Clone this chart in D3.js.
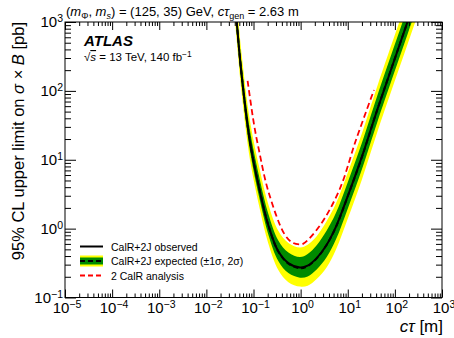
<!DOCTYPE html>
<html>
<head>
<meta charset="utf-8">
<script src="https://cdn.jsdelivr.net/npm/d3@7"></script>
<style>
body{margin:0;background:#fff;}
svg{font-family:"Liberation Sans",Arial,sans-serif;}
</style>
</head>
<body>
<svg id="chart"></svg>
<script>
// limit on sigma x B vs c tau

var w=454,h=338;
var L=65,R=442,T=22,B=297.5;

// data
var ctau=[0.036,0.044,0.056,0.0843,0.1375,0.206,0.336,0.55,0.97,1.41,2.19,3.55,5.6,10,20,43,185,316];
var expd=[5000,1000,170,18.3,3.44,1.13,0.464,0.31,0.266,0.285,0.37,0.58,1.05,2.95,11,55,1000,2900];
var obs =[5000,1000,168,18.0,3.40,1.12,0.468,0.316,0.272,0.29,0.373,0.58,1.06,2.97,11.1,55,1000,2900];
var p2  =[10000,2000,340,36.6,6.9,2.26,0.93,0.62,0.532,0.585,0.777,1.276,2.31,6.5,24.2,121,2200,6380];
var p1  =[7250,1450,246,26.5,5.0,1.64,0.673,0.45,0.386,0.428,0.574,0.928,1.68,4.72,17.6,88,1600,4640];
var m1  =[3650,730,124,13.4,2.51,0.825,0.339,0.226,0.194,0.202,0.255,0.383,0.693,1.95,7.26,36.3,660,1910];
var m2  =[2700,540,92,9.9,1.86,0.61,0.251,0.167,0.144,0.148,0.185,0.273,0.494,1.39,5.17,25.9,470,1360];

var calrX=[0.075,0.103,0.13,0.206,0.46,0.69,0.95,1.12,2.5,6.7,15,36];
var calrY=[140,32,14,3.5,0.82,0.62,0.59,0.60,1.08,3.7,19.5,103];

var xDecades=[-5,-4,-3,-2,-1,0,1,2,3];
var yDecades=[-1,0,1,2,3];
var legendLabels=["CalR+2J observed","CalR+2J expected (\u00b11\u03c3, 2\u03c3)","2 CalR analysis"];

// scales

var x=d3.scaleLog().domain([1e-5,1e3]).range([L,R]);
var y=d3.scaleLog().domain([1e-1,1e3]).range([B,T]);

var svg=d3.select("#chart").attr("width",w).attr("height",h);

svg.append("clipPath").attr("id","clip").append("rect")
	.attr("x",L).attr("y",T).attr("width",R-L).attr("height",B-T);

var plot=svg.append("g").attr("clip-path","url(#clip)");
var smooth=d3.curveCatmullRom.alpha(0.5);

function band(lo,hi) {
	return d3.area().curve(smooth)
		.x(function(d,i) {return x(ctau[i]);})
		.y0(function(d,i) {return y(lo[i]);})
		.y1(function(d,i) {return y(hi[i]);})(ctau);
}
function curve(xs,ys) {
	return d3.line().curve(smooth)
		.x(function(d,i) {return x(xs[i]);})
		.y(function(d,i) {return y(ys[i]);})(xs);
}

plot.append("path").attr("d",band(m2,p2)).style("fill","#ffff00");
plot.append("path").attr("d",band(m1,p1)).style("fill","#008a00");
plot.append("path").attr("d",curve(calrX,calrY))
	.style("fill","none").style("stroke","#ff0000").style("stroke-width",1.8).style("stroke-dasharray","6 3.5");
plot.append("path").attr("d",curve(ctau,obs))
	.style("fill","none").style("stroke","#000").style("stroke-width",2);
plot.append("path").attr("d",curve(ctau,expd))
	.style("fill","none").style("stroke","#000").style("stroke-width",2).style("stroke-dasharray","5 3");

// axes, ticks inside on all four sides

function minors(lo,hi) {
	var v=[];
	d3.range(lo,hi).forEach(function(e) {d3.range(2,10).forEach(function(k) {v.push(k*Math.pow(10,e));});});
	return v;
}
var xMaj=xDecades.map(function(e) {return Math.pow(10,e);});
var yMaj=yDecades.map(function(e) {return Math.pow(10,e);});
var xMin=minors(-5,3),yMin=minors(-1,3);

function drawAxis(gen,scale,vals,len,tr) {
	svg.append("g").attr("transform",tr)
		.call(gen(scale).tickValues(vals).tickSize(len).tickFormat(""))
		.call(function(g) {g.select(".domain").remove();g.selectAll("line").style("stroke","#000");});
}
drawAxis(d3.axisBottom,x,xMaj,-8,"translate(0,"+B+")");
drawAxis(d3.axisBottom,x,xMin,-4,"translate(0,"+B+")");
drawAxis(d3.axisTop,x,xMaj,-8,"translate(0,"+T+")");
drawAxis(d3.axisTop,x,xMin,-4,"translate(0,"+T+")");
drawAxis(d3.axisLeft,y,yMaj,-11,"translate("+L+",0)");
drawAxis(d3.axisLeft,y,yMin,-6,"translate("+L+",0)");
drawAxis(d3.axisRight,y,yMaj,-11,"translate("+R+",0)");
drawAxis(d3.axisRight,y,yMin,-6,"translate("+R+",0)");

svg.append("rect").attr("x",L).attr("y",T).attr("width",R-L).attr("height",B-T)
	.style("fill","none").style("stroke","#000").style("stroke-width",1);

function powLabel(sel,e) {
	sel.append("tspan").text("10");
	sel.append("tspan").attr("dy","-0.45em").style("font-size","10.5px").text(e<0?"\u2212"+(-e):e);
}
xDecades.forEach(function(e) {
	var t=svg.append("text").attr("x",x(Math.pow(10,e))+2).attr("y",312.5)
		.attr("text-anchor","middle").style("font-size","15px");
	powLabel(t,e);
});
yDecades.forEach(function(e) {
	var t=svg.append("text").attr("x",63).attr("y",y(Math.pow(10,e))+5)
		.attr("text-anchor","end").style("font-size","15px");
	powLabel(t,e);
});

// axis titles
var xt=svg.append("text").attr("x",R+1).attr("y",332).attr("text-anchor","end").style("font-size","17px");
xt.append("tspan").style("font-style","italic").text("c\u03c4");
xt.append("tspan").text(" [m]");

var yt=svg.append("text").attr("transform","translate(24,"+T+") rotate(-90)")
	.attr("text-anchor","end").style("font-size","16.5px");
yt.append("tspan").text("95% CL upper limit on ");
yt.append("tspan").style("font-style","italic").text("\u03c3");
yt.append("tspan").text(" \u00d7 ");
yt.append("tspan").style("font-style","italic").text("B");
yt.append("tspan").text(" [pb]");

// title
var tt=svg.append("text").attr("x",L+1).attr("y",16).style("font-size","13px");
tt.append("tspan").text("(");
tt.append("tspan").style("font-style","italic").text("m");
tt.append("tspan").attr("dy",3).style("font-size","9px").text("\u03a6");
tt.append("tspan").attr("dy",-3).text(", ");
tt.append("tspan").style("font-style","italic").text("m");
tt.append("tspan").attr("dy",3).style("font-size","9px").style("font-style","italic").text("s");
tt.append("tspan").attr("dy",-3).text(") = (125, 35) GeV, ");
tt.append("tspan").style("font-style","italic").text("c\u03c4");
tt.append("tspan").attr("dy",3).style("font-size","9px").text("gen");
tt.append("tspan").attr("dy",-3).text(" = 2.63 m");

// ATLAS label
svg.append("text").attr("x",84).attr("y",46).style("font-size","15px")
	.style("font-weight","bold").style("font-style","italic").text("ATLAS");
var st=svg.append("text").attr("x",84).attr("y",61).style("font-size","11.5px");
st.append("tspan").text("\u221a");
st.append("tspan").style("font-style","italic").style("text-decoration","overline").text("s");
st.append("tspan").text(" = 13 TeV, 140 fb");
st.append("tspan").attr("dy",-4).style("font-size","8.5px").text("\u22121");

// legend
var ly=[246.5,261,275.5];
svg.append("line").attr("x1",80).attr("x2",103).attr("y1",ly[0]).attr("y2",ly[0])
	.style("stroke","#000").style("stroke-width",2);
svg.append("rect").attr("x",80).attr("y",ly[1]-5.5).attr("width",23).attr("height",11).style("fill","#ffff00");
svg.append("rect").attr("x",80).attr("y",ly[1]-3.5).attr("width",23).attr("height",7).style("fill","#008a00");
svg.append("line").attr("x1",80).attr("x2",103).attr("y1",ly[1]).attr("y2",ly[1])
	.style("stroke","#000").style("stroke-width",2).style("stroke-dasharray","5 3");
svg.append("line").attr("x1",80).attr("x2",103).attr("y1",ly[2]).attr("y2",ly[2])
	.style("stroke","#ff0000").style("stroke-width",1.8).style("stroke-dasharray","5 3");

svg.selectAll(".leg").data(legendLabels).enter().append("text")
	.attr("x",111).attr("y",function(d,i) {return ly[i]+4;})
	.style("font-size","10.5px").text(function(d) {return d;});
</script>
</body>
</html>
